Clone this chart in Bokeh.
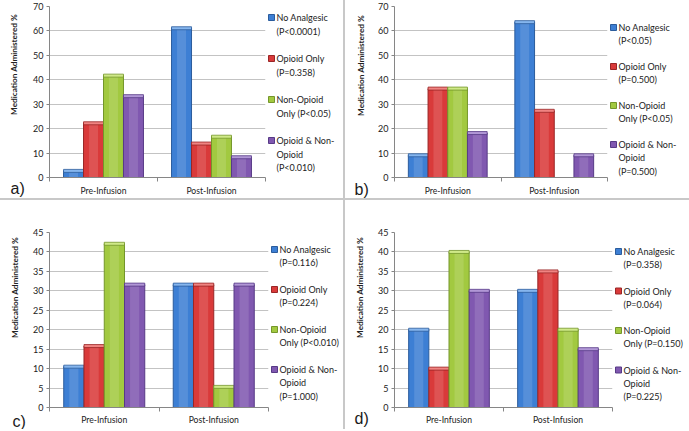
import math
from bokeh.plotting import figure
from bokeh.models import FixedTicker, Range1d, Spacer
from bokeh.layouts import row, column
from bokeh.core.properties import value
from bokeh.embed import file_html
from bokeh.resources import INLINE

categories = ["Pre-Infusion", "Post-Infusion"]
series = ["No Analgesic", "Opioid Only", "Non-Opioid Only", "Opioid & Non-Opioid"]

# panel a
a_no_analgesic = [2.7, 61.1]
a_opioid_only = [22.2, 13.9]
a_non_opioid_only = [41.7, 16.7]
a_opioid_and_non = [33.3, 8.3]
a_legend = [["No Analgesic", "(P<0.0001)"], ["Opioid Only", "(P=0.358)"],
            ["Non-Opioid", "Only (P<0.05)"], ["Opioid & Non-", "Opioid", "(P<0.010)"]]

# panel b
b_no_analgesic = [9.1, 63.6]
b_opioid_only = [36.4, 27.3]
b_non_opioid_only = [36.4, 0.0]
b_opioid_and_non = [18.2, 9.1]
b_legend = [["No Analgesic", "(P<0.05)"], ["Opioid Only", "(P=0.500)"],
            ["Non-Opioid", "Only (P<0.05)"], ["Opioid & Non-", "Opioid", "(P=0.500)"]]

# panel c
c_no_analgesic = [10.5, 31.6]
c_opioid_only = [15.8, 31.6]
c_non_opioid_only = [42.1, 5.3]
c_opioid_and_non = [31.6, 31.6]
c_legend = [["No Analgesic", "(P=0.116)"], ["Opioid Only", "(P=0.224)"],
            ["Non-Opioid", "Only (P<0.010)"], ["Opioid & Non-", "Opioid", "(P=1.000)"]]

# panel d
d_no_analgesic = [20, 30]
d_opioid_only = [10, 35]
d_non_opioid_only = [40, 20]
d_opioid_and_non = [30, 15]
d_legend = [["No Analgesic", "(P=0.358)"], ["Opioid Only", "(P=0.064)"],
            ["Non-Opioid", "Only (P=0.150)"], ["Opioid & Non-", "Opioid", "(P=0.225)"]]

y_title = "Medication Administered %"
panel_tags = ["a)", "b)", "c)", "d)"]

fill_colors = ["#3d7fd4", "#d93a3a", "#a2c940", "#8058b0"]
edge_colors = ["#2b5c9c", "#992626", "#74962a", "#573a86"]
cap_colors = ["#86b6ee", "#f08482", "#cfe988", "#b197d6"]

FONT = "Lato"
TEXT_COLOR = "#222222"
SEP_COLOR = "#c8c8c8"


def blank_fig(width, height, top, bottom):
    p = figure(width=width, height=height, output_backend="svg",
               toolbar_location=None, x_range=Range1d(0, width),
               y_range=Range1d(0, height), min_border=0,
               x_axis_location=None, y_axis_location=None)
    try:
        p.frame_align = False
    except Exception:
        # frame stays aligned with the chart frame: map pixel coordinates onto it
        p.y_range = Range1d(bottom, height - top)
    p.grid.visible = False
    p.outline_line_color = None
    p.background_fill_color = "white"
    p.border_fill_color = "white"
    return p


def tag_fig(tag, width, height, top, bottom, title_x, title_cy, tag_x, tag_base):
    p = blank_fig(width, height, top, bottom)
    p.text(x=[title_x], y=[height - title_cy], text=[y_title], angle=math.pi / 2,
           text_font=value(FONT), text_font_style="bold", text_font_size="8.2px",
           text_color=TEXT_COLOR, text_align="center", text_baseline="middle")
    p.text(x=[tag_x], y=[height - tag_base], text=[tag],
           text_font=value("Liberation Sans"), text_font_size="16px",
           text_color="#1a1a1a", text_align="left", text_baseline="alphabetic")
    return p


def legend_fig(labels, width, height, top_b, bottom_b, top, item_gap, line_gap):
    p = blank_fig(width, height, top_b, bottom_b)
    sq_x, sq_y, tx, ty, tt = [], [], [], [], []
    for k, lines in enumerate(labels):
        y0 = top + k * item_gap
        sq_x.append(5)
        sq_y.append(height - y0)
        for j, line in enumerate(lines):
            tx.append(10)
            ty.append(height - (y0 + j * line_gap))
            tt.append(line)
    p.rect(x=sq_x, y=sq_y, width=6, height=6, fill_color=fill_colors,
           line_color=edge_colors, line_width=1)
    p.text(x=tx, y=ty, text=tt, text_font=value(FONT), text_font_size="9px",
           text_color=TEXT_COLOR, text_align="left", text_baseline="middle")
    return p


def chart_fig(data, ymax, ystep, width, height, left, top, bottom, label_standoff):
    p = figure(width=width, height=height, output_backend="svg",
               toolbar_location=None, x_range=Range1d(0, 2),
               y_range=Range1d(0, ymax),
               min_border_left=left, min_border_right=1,
               min_border_top=top, min_border_bottom=bottom)
    try:
        p.frame_align = False
    except Exception:
        pass
    p.outline_line_color = None
    p.background_fill_color = "white"
    p.border_fill_color = "white"

    offsets = [-0.2775, -0.0925, 0.0925, 0.2775]
    bw = 0.185
    for k, vals in enumerate(data):
        xs = [i + 0.5 + offsets[k] for i in range(len(categories))]
        p.vbar(x=xs, top=vals, width=bw, bottom=0,
               fill_color=fill_colors[k], line_color=edge_colors[k], line_width=1)
        p.vbar(x=xs, top=vals, width=bw * 0.45, bottom=0,
               fill_color="white", fill_alpha=0.13, line_color=None)
        cx = [x for x, v in zip(xs, vals) if v > 0]
        cy = [v for v in vals if v > 0]
        p.rect(x=cx, y=cy, width=bw, height=3, height_units="screen",
               fill_color=cap_colors[k], line_color=edge_colors[k], line_width=0.8)

    p.yaxis.ticker = FixedTicker(ticks=list(range(0, ymax + 1, ystep)))
    p.yaxis.major_label_text_font = FONT
    p.yaxis.major_label_text_font_size = "9px"
    p.yaxis.major_label_text_color = TEXT_COLOR
    p.yaxis.major_label_standoff = 3
    p.yaxis.major_tick_in = 0
    p.yaxis.major_tick_out = 3
    p.yaxis.minor_tick_out = 0
    p.yaxis.axis_line_color = "#868686"
    p.yaxis.major_tick_line_color = "#868686"

    p.xaxis.ticker = FixedTicker(ticks=[0.5, 1.5], minor_ticks=[0, 1, 2])
    p.xaxis.major_label_overrides = {i + 0.5: c for i, c in enumerate(categories)}
    p.xaxis.major_label_text_font = FONT
    p.xaxis.major_label_text_font_size = "8.6px"
    p.xaxis.major_label_text_color = TEXT_COLOR
    p.xaxis.major_label_standoff = label_standoff
    p.xaxis.major_tick_out = 0
    p.xaxis.major_tick_in = 0
    p.xaxis.minor_tick_out = 4
    p.xaxis.minor_tick_in = 0
    p.xaxis.axis_line_color = "#868686"
    p.xaxis.minor_tick_line_color = "#868686"

    p.xgrid.grid_line_color = None
    p.ygrid.grid_line_color = "#c3c3c3"
    return p


TOP_H = 198
BOT_H = 229
TOP_T, TOP_B = 6, 21
BOT_T, BOT_B = 32, 22

ta = tag_fig(panel_tags[0], 30, TOP_H, TOP_T, TOP_B, 13, 64, 10, 188)
ca = chart_fig([a_no_analgesic, a_opioid_only, a_non_opioid_only, a_opioid_and_non],
               70, 10, 236, TOP_H, 18, TOP_T, TOP_B, 4)
la = legend_fig(a_legend, 77, TOP_H, TOP_T, TOP_B, 17, 41, 13.5)

tb = tag_fig(panel_tags[1], 30, TOP_H, TOP_T, TOP_B, 15, 65, 9, 189)
cb = chart_fig([b_no_analgesic, b_opioid_only, b_non_opioid_only, b_opioid_and_non],
               70, 10, 233, TOP_H, 18, TOP_T, TOP_B, 4)
lb = legend_fig(b_legend, 81, TOP_H, TOP_T, TOP_B, 27, 39, 13.3)

tc = tag_fig(panel_tags[2], 30, BOT_H, BOT_T, BOT_B, 14, 87, 12, 221)
cc = chart_fig([c_no_analgesic, c_opioid_only, c_non_opioid_only, c_opioid_and_non],
               45, 5, 239, BOT_H, 18, BOT_T, BOT_B, 3)
lc = legend_fig(c_legend, 74, BOT_H, BOT_T, BOT_B, 49, 40, 13.3)

td = tag_fig(panel_tags[3], 30, BOT_H, BOT_T, BOT_B, 14, 87, 9, 218)
cd = chart_fig([d_no_analgesic, d_opioid_only, d_non_opioid_only, d_opioid_and_non],
               45, 5, 238, BOT_H, 17, BOT_T, BOT_B, 3)
ld = legend_fig(d_legend, 76, BOT_H, BOT_T, BOT_B, 51, 39.5, 13.3)

vsep_top = Spacer(width=2, height=TOP_H, styles={"background-color": SEP_COLOR})
vsep_bot = Spacer(width=2, height=BOT_H, styles={"background-color": SEP_COLOR})
hsep = Spacer(width=689, height=2, styles={"background-color": SEP_COLOR})

layout = column(row(ta, ca, la, vsep_top, tb, cb, lb),
                hsep,
                row(tc, cc, lc, vsep_bot, td, cd, ld))

open("out.html", "w").write(file_html(layout, INLINE))
